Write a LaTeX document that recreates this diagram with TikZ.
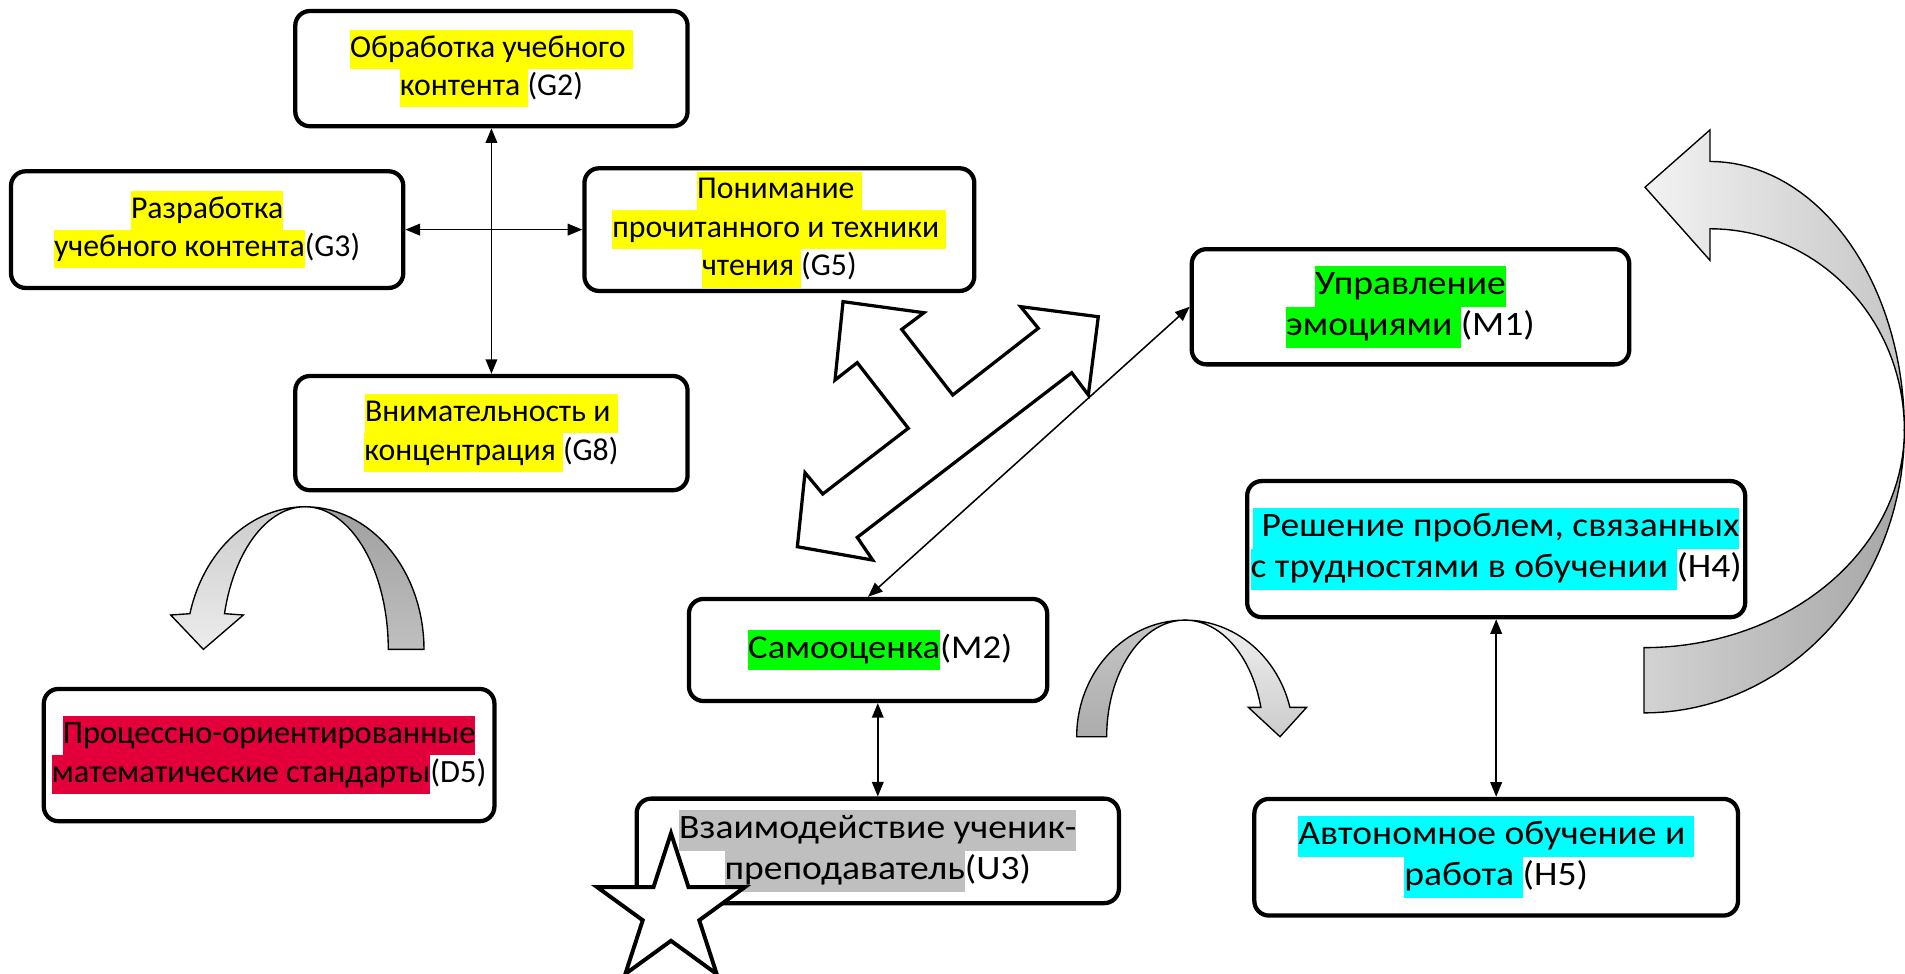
\documentclass[tikz,border=0pt]{standalone}
\usepackage{fontspec}
\setmainfont{Carlito}
\newfontfamily\widefont[FakeStretch=1.1]{Carlito}
\usepackage{xcolor}
\usetikzlibrary{shapes.geometric,arrows.meta,positioning}

\definecolor{hlyellow}{RGB}{255,255,0}
\definecolor{hlgreen}{RGB}{0,255,0}
\definecolor{hlcyan}{RGB}{0,255,255}
\definecolor{hlred}{RGB}{227,0,58}
\definecolor{hlgray}{RGB}{191,191,191}
\newcommand{\hlbox}[2]{{\setlength{\fboxsep}{0pt}\colorbox{#1}{\strut#2}}}

\begin{document}
\begin{tikzpicture}[
    x=0.025cm, y=-0.025cm,
    box/.style={rectangle, draw=black, fill=white, line width=2.5pt, rounded corners=0.3cm, align=center, inner sep=2pt, font=\fontsize{18.6}{22.6}\selectfont},
    wide/.style={box, font=\widefont\fontsize{20}{24}\selectfont},
    arrow/.style={{Triangle[length=3mm,width=2.4mm]}-{Triangle[length=3mm,width=2.4mm]}, line width=0.9pt},
    hollow/.style={draw=black, fill=white, line width=1.9pt, line join=miter},
    ribbon/.style={draw=black, line width=0.8pt}
]
    \useasboundingbox (0,0) rectangle (1568,801);

    % curved ribbons
    \draw[ribbon, top color=gray!75, bottom color=gray!50] plot[domain=90:0, samples=30] ({251.1+97.9*cos(\x)},{534.5-117.4*sin(\x)}) -- plot[domain=0:90, samples=30] ({251.1+68.5*cos(\x)},{534.5-117.4*sin(\x)}) -- cycle;
    \draw[ribbon, top color=gray!40, bottom color=gray!15] plot[domain=90:165.5, samples=30] ({251.1+97.9*cos(\x)},{534.5-117.4*sin(\x)}) -- (140.5,506.2) -- (167.4,534.5) -- (200.3,506.2) -- plot[domain=165.5:90, samples=30] ({251.1+68.5*cos(\x)},{534.5-117.4*sin(\x)}) -- cycle;

    \draw[ribbon, top color=gray!45, bottom color=gray!65] plot[domain=90:180, samples=30] ({975.4+89.2*cos(\x)},{606.4-96*sin(\x)}) -- plot[domain=180:90, samples=30] ({975.4+64.5*cos(\x)},{606.4-96*sin(\x)}) -- cycle;
    \draw[ribbon, top color=gray!12, bottom color=gray!40] plot[domain=90:14.6, samples=30] ({975.4+89.2*cos(\x)},{606.4-96*sin(\x)}) -- (1075.5,582.2) -- (1053.6,606.4) -- (1027.5,582.2) -- plot[domain=14.6:90, samples=30] ({975.4+64.5*cos(\x)},{606.4-96*sin(\x)}) -- cycle;

    \draw[ribbon, left color=gray!10, right color=gray!45] plot[domain=90:0, samples=40] ({1407.5+160*cos(\x)},{354-221.1*sin(\x)}) -- plot[domain=0:90, samples=40] ({1407.5+160*cos(\x)},{354-165.7*sin(\x)}) -- (1407.5,214.3) -- (1354,154.1) -- (1407.5,106.9) -- cycle;
    \draw[ribbon, left color=gray!35, right color=gray!70] plot[domain=0:-90, samples=40] ({1353.2+214.3*cos(\x)},{354-232.8*sin(\x)}) -- plot[domain=-90:0, samples=40] ({1353.2+214.3*cos(\x)},{354-179.1*sin(\x)}) -- cycle;

    % three-way arrow
    \draw[hollow] (693.9,248.3) -- (760.5,257.4) -- (742.2,271.1) -- (784.2,325.1) -- (854.6,270.2) -- (840.1,252.4) -- (904.0,260.7) -- (895.8,325.1) -- (882.1,306.8) -- (705.6,442.3) -- (718.3,461.0) -- (656.3,450.0) -- (662.6,389.1) -- (677.2,406.6) -- (747.6,352.5) -- (705.6,298.5) -- (687.3,312.8) -- cycle;

    \node[box, minimum width=8.07cm, minimum height=2.37cm] (g2) at (404.5,56.5) {\hlbox{hlyellow}{Обработка учебного }\\\hlbox{hlyellow}{контента }(G2)};
    \node[box, below=5.05cm of g2, minimum width=8.07cm, minimum height=2.35cm] (g8) {\hlbox{hlyellow}{Внимательность и }\\\hlbox{hlyellow}{концентрация }(G8)};
    \node[box, minimum width=8.07cm, minimum height=2.4cm] (g3) at (170.5,189) {\hlbox{hlyellow}{Разработка}\\\hlbox{hlyellow}{учебного контента}(G3)};
    \node[box, minimum width=8.02cm, minimum height=2.4cm] (g5) at (641.5,189) {\hlbox{hlyellow}{Понимание }\\\hlbox{hlyellow}{прочитанного и техники }\\\hlbox{hlyellow}{чтения }(G5)};

    \node[wide, minimum width=9cm, minimum height=2.37cm] (m1) at (1161,252.5) {\hlbox{hlgreen}{Управление}\\\hlbox{hlgreen}{эмоциями }(M1)};
    \node[wide, minimum width=10.17cm, minimum height=2.8cm] (h4) at (1231.5,452) {\hlbox{hlcyan}{ Решение проблем, связанных}\\\hlbox{hlcyan}{с трудностями в обучении }(H4)};
    \node[wide, below=3.65cm of h4, minimum width=9.95cm, minimum height=2.4cm] (h5) {\hlbox{hlcyan}{Автономное обучение и }\\\hlbox{hlcyan}{работа }(H5)};

    \node[wide, font=\widefont\fontsize{19.5}{23.5}\selectfont, minimum width=7.37cm, minimum height=2.1cm] (m2) at (714.5,535) {\hspace*{0.5cm}\hlbox{hlgreen}{Самооценка}(M2)};
    \node[wide, below=1.92cm of m2, xshift=0.2cm, minimum width=9.92cm, minimum height=2.15cm] (u3) {\hlbox{hlgray}{Взаимодействие ученик-}\\\hlbox{hlgray}{преподаватель}(U3)};
    \node[box, font=\fontsize{19}{23}\selectfont, minimum width=9.27cm, minimum height=2.72cm] (d5) at (221.5,621.5) {\hlbox{hlred}{Процессно-ориентированные}\\\hlbox{hlred}{математические стандарты}(D5)};

    \node[star, star points=5, star point ratio=2.618, minimum size=3.2cm, inner sep=0pt, draw=black, fill=white, line width=2.3pt] (star) at (552.3,749.9) {};

    \draw[arrow] (g2) -- (g8);
    \draw[arrow] (g3.east) -- (g5.west);
    \draw[arrow] (m1.west) -- (m2.north);
    \draw[arrow] (u3.north |- m2.south) -- (u3.north);
    \draw[arrow] (h4.south) -- (h5.north);
\end{tikzpicture}
\end{document}
